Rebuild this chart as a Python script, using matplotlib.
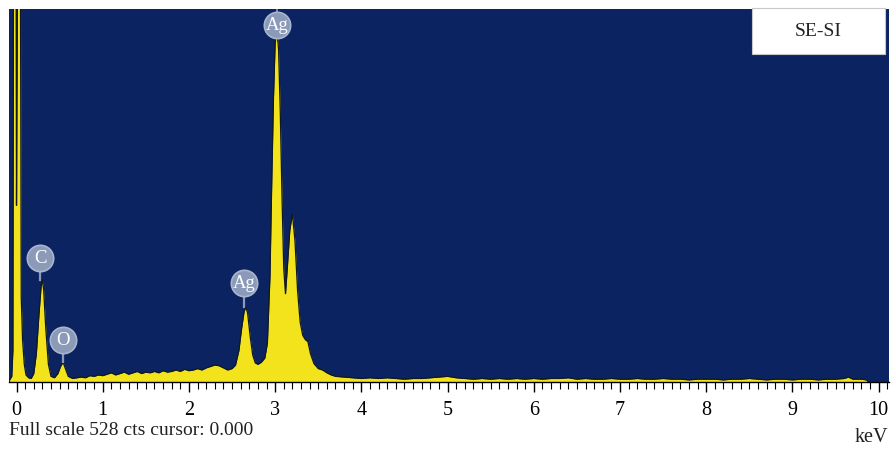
import matplotlib
matplotlib.use("Agg")
import matplotlib.pyplot as plt
from matplotlib.ticker import MultipleLocator

# EDS spectrum (energy in keV, counts)
energy_kev = [
    -0.08, -0.055, -0.042, -0.035, -0.005, 0.0, 0.012, 0.045, 0.055, 0.07,
    0.09, 0.11, 0.14, 0.17, 0.20, 0.23, 0.26, 0.285, 0.30, 0.315, 0.34,
    0.37, 0.40, 0.44, 0.48, 0.51, 0.54, 0.57, 0.60, 0.65, 0.70,
    0.75, 0.80, 0.85, 0.90, 0.95, 1.00, 1.05, 1.10, 1.15, 1.20,
    1.25, 1.30, 1.35, 1.40, 1.45, 1.50, 1.55, 1.60, 1.65, 1.70,
    1.75, 1.80, 1.85, 1.90, 1.95, 2.00, 2.05, 2.10, 2.15, 2.20,
    2.25, 2.30, 2.35, 2.40, 2.45, 2.50, 2.54,
    2.58, 2.61, 2.64, 2.66, 2.68, 2.71, 2.74, 2.77, 2.80, 2.84,
    2.88, 2.91, 2.94, 2.96, 2.98, 3.00, 3.02, 3.04, 3.06, 3.08,
    3.10, 3.12, 3.14, 3.17, 3.20, 3.23, 3.26, 3.29, 3.32, 3.35,
    3.38, 3.41, 3.45, 3.50, 3.55, 3.60, 3.65, 3.70,
    3.8, 3.9, 4.0, 4.1, 4.2, 4.3, 4.4, 4.5, 4.6, 4.7,
    4.8, 4.9, 5.0, 5.1, 5.2, 5.3, 5.4, 5.5, 5.6, 5.7,
    5.8, 5.9, 6.0, 6.1, 6.2, 6.3, 6.4, 6.5, 6.6, 6.7,
    6.8, 6.9, 7.0, 7.1, 7.2, 7.3, 7.4, 7.5, 7.6, 7.7,
    7.8, 7.9, 8.0, 8.1, 8.2, 8.3, 8.4, 8.5, 8.6, 8.7,
    8.8, 8.9, 9.0, 9.1, 9.2, 9.3, 9.4, 9.5, 9.6, 9.65,
    9.7, 9.8, 9.86, 9.88,
]
counts = [
    3, 8, 45, 600, 600, 250, 600, 600, 120, 60,
    25, 10, 6, 5, 12, 40, 95, 135, 145, 130, 75,
    25, 8, 6, 12, 22, 28, 18, 8, 5, 6,
    7, 6, 9, 8, 10, 9, 11, 13, 10, 12,
    14, 11, 13, 15, 12, 14, 13, 15, 13, 16,
    14, 15, 17, 15, 18, 16, 17, 19, 17, 20,
    22, 24, 23, 20, 17, 19, 24,
    45, 75, 100, 106, 98, 65, 38, 27, 25, 28,
    34, 55, 150, 280, 400, 480, 498, 470, 380, 260,
    160, 125, 160, 215, 238, 200, 130, 85, 66, 60,
    57, 40, 26, 19, 17, 13, 10, 8,
    7, 6, 5, 6, 5, 6, 5, 4, 5, 5,
    6, 7, 8, 6, 5, 4, 5, 4, 5, 4,
    5, 4, 5, 4, 5, 5, 6, 4, 5, 4,
    4, 5, 4, 4, 5, 4, 4, 5, 4, 4,
    3, 4, 4, 4, 3, 4, 4, 5, 4, 3,
    4, 4, 3, 4, 4, 3, 4, 4, 5, 7,
    4, 4, 3, 0,
]

# element badges: label, energy, badge height (counts), peak top (counts)
peak_labels = ["C", "O", "Ag", "Ag"]
label_energy = [0.273, 0.54, 2.64, 3.02]
label_height = [175, 59, 140, 505]
peak_top = [145, 28, 106, 490]

full_scale = 528

navy = "#0b2461"
yellow = "#f2e31c"
badge = "#8b9ab8"
serif = ["Liberation Serif", "DejaVu Serif"]

fig = plt.figure(figsize=(8.92, 4.51), dpi=100)
ax = fig.add_axes([0.0101, 0.153, 0.9865, 0.827])
ax.set_facecolor(navy)

ax.fill_between(energy_kev, counts, 0, color=yellow, linewidth=0, zorder=2)
ax.plot(energy_kev, counts, color="#101820", linewidth=0.9, zorder=3)

for lab, e, h, top in zip(peak_labels, label_energy, label_height, peak_top):
    ax.plot([e, e], [top, h], color=badge, linewidth=1.6, zorder=4)
    ax.scatter([e], [h], s=360, color=badge, edgecolor="#a9b5cc",
               linewidth=1.2, zorder=5)
    ax.text(e, h, lab, color="white", fontsize=13.5, family=serif,
            ha="center", va="center", zorder=6)
# stem above the tallest badge
ax.plot([3.02, 3.02], [505, 540], color=badge, linewidth=1.2, zorder=4)

ax.set_xlim(-0.087, 10.12)
ax.set_ylim(0, full_scale)

ax.xaxis.set_major_locator(MultipleLocator(1))
ax.xaxis.set_minor_locator(MultipleLocator(0.1))
ax.tick_params(axis="x", which="major", length=7, width=1.0, direction="out",
               pad=7, labelsize=14.5, color="black")
ax.tick_params(axis="x", which="minor", length=5, width=0.8, direction="out",
               color="black")
for t in ax.get_xticklabels():
    t.set_family(serif)
ax.set_yticks([])
for side in ["top", "left", "right"]:
    ax.spines[side].set_visible(False)
ax.spines["bottom"].set_color("black")
ax.spines["bottom"].set_linewidth(1.0)

# SE-SI box
ax.add_patch(plt.Rectangle((0.844, 0.879), 0.151, 0.125, transform=ax.transAxes,
                           facecolor="white", edgecolor="#c8c8c8", linewidth=0.8,
                           zorder=7, clip_on=False))
ax.text(0.9195, 0.94, "SE-SI", transform=ax.transAxes, fontsize=14,
        family=serif, ha="center", va="center", color="#222222", zorder=8)

fig.text(0.0101, 0.035, "Full scale 528 cts cursor: 0.000", fontsize=14,
         family=serif, ha="left", va="baseline", color="#222222")
fig.text(0.996, 0.02, "keV", fontsize=14.5, family=serif, ha="right",
         va="baseline", color="#222222")

fig.savefig("out.png", dpi=100)
